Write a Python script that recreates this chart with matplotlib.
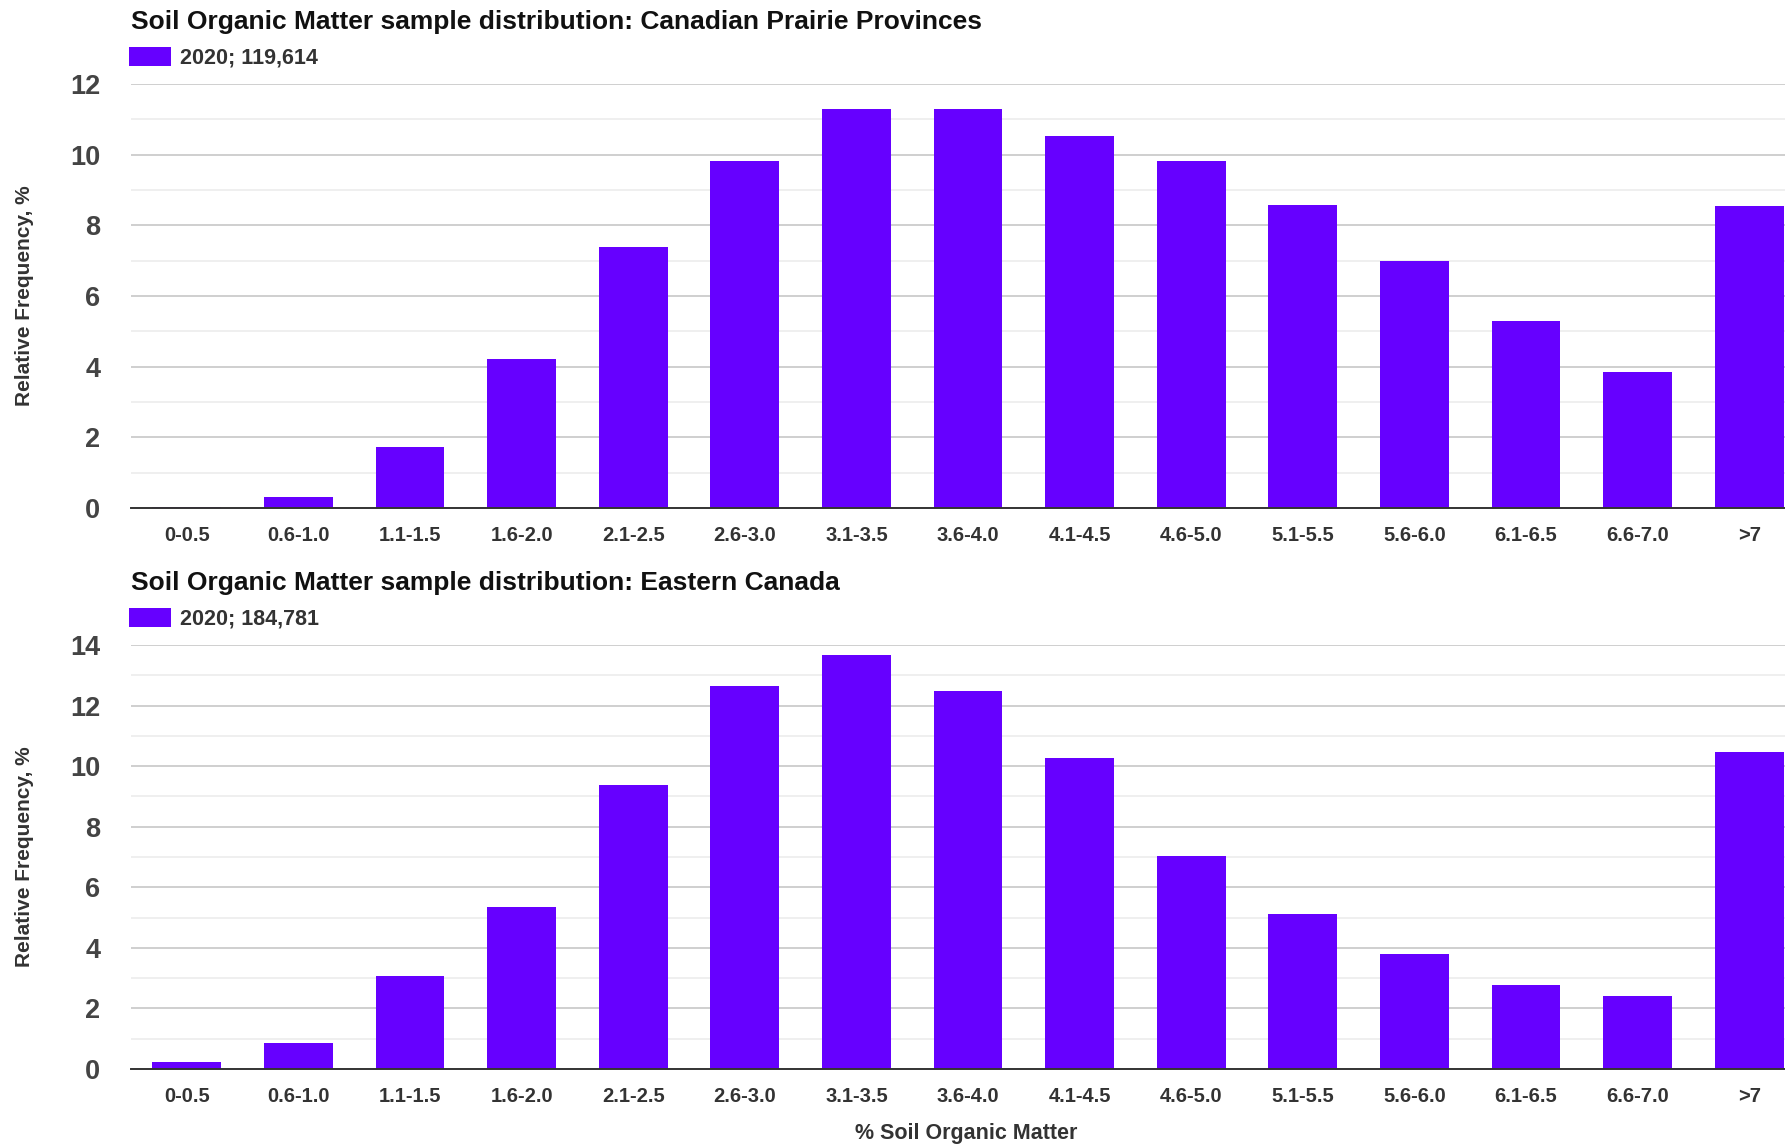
import matplotlib
matplotlib.use("Agg")
import numpy as np
import matplotlib.pyplot as plt
from matplotlib.ticker import MultipleLocator

plt.rcParams['font.family'] = ['Liberation Sans', 'DejaVu Sans']
plt.rcParams['font.weight'] = 'bold'

# bins of % soil organic matter
bins = ['0-0.5', '0.6-1.0', '1.1-1.5', '1.6-2.0', '2.1-2.5', '2.6-3.0', '3.1-3.5',
        '3.6-4.0', '4.1-4.5', '4.6-5.0', '5.1-5.5', '5.6-6.0', '6.1-6.5', '6.6-7.0', '>7']

# relative frequency (%) per bin
prairie = [0.02, 0.31, 1.72, 4.23, 7.40, 9.82, 11.29, 11.29, 10.52, 9.81, 8.58, 6.98, 5.30, 3.86, 8.54]
eastern = [0.24, 0.85, 3.06, 5.35, 9.39, 12.63, 13.68, 12.47, 10.28, 7.02, 5.11, 3.79, 2.77, 2.42, 10.47]

prairie_title = 'Soil Organic Matter sample distribution: Canadian Prairie Provinces'
eastern_title = 'Soil Organic Matter sample distribution: Eastern Canada'
prairie_label = '2020; 119,614'
eastern_label = '2020; 184,781'

BAR = '#6600ff'
W, H = 1785, 1144

fig = plt.figure(figsize=(W / 100, H / 100), dpi=100)


def panel(top_px, bot_px, vals, ymax, title, label):
    left = 131 / W
    width = 1674 / W  # runs past the right edge, last bar gets clipped
    ax = fig.add_axes([left, 1 - bot_px / H, width, (bot_px - top_px) / H])
    x = np.arange(len(bins))
    ax.bar(x, vals, width=0.615, color=BAR, label=label, zorder=3)
    ax.set_xlim(-0.5, len(bins) - 0.5)
    ax.set_ylim(0, ymax)
    ax.yaxis.set_major_locator(MultipleLocator(2))
    ax.yaxis.set_minor_locator(MultipleLocator(1))
    ax.grid(axis='y', which='major', color='#cccccc', lw=1.3, zorder=0)
    ax.grid(axis='y', which='minor', color='#ebebeb', lw=1.1, zorder=0)
    for s in ['top', 'right', 'left']:
        ax.spines[s].set_visible(False)
    ax.spines['bottom'].set_color('#333333')
    ax.spines['bottom'].set_linewidth(1.4)
    ax.spines['bottom'].set_zorder(4)
    ax.set_xticks(x)
    ax.set_xticklabels(bins)
    ax.tick_params(axis='x', length=0, pad=13, labelsize=14.5, labelcolor='#333333')
    ax.tick_params(axis='y', which='both', length=0, pad=22, labelsize=19.5, labelcolor='#444444')
    for t in ax.get_yticklabels():
        t.set_fontweight('bold')
    # axis title, rotated, near the left edge
    fig.text(24 / W, 1 - (top_px + bot_px) / 2 / H, 'Relative Frequency, %', rotation=90,
             fontsize=15, fontweight='bold', color='#333333', ha='center', va='center')
    fig.text(left, 1 - (top_px - 62) / H, title, fontsize=19, color='#111111',
             ha='left', va='center')
    ax.legend(loc='center left', bbox_to_anchor=(left - 0.001, 1 - (top_px - 26) / H),
              bbox_transform=fig.transFigure, frameon=False, borderpad=0,
              borderaxespad=0, handlelength=1.95, handleheight=0.95, handletextpad=0.42,
              prop={'size': 15.5, 'weight': 'bold'}, labelcolor='#333333')
    return ax


panel(84, 508, prairie, 12, prairie_title, prairie_label)
panel(645, 1069, eastern, 14, eastern_title, eastern_label)
fig.text(966 / W, 1 - 1134 / H, '% Soil Organic Matter', fontsize=15.5, color='#333333',
         ha='center', va='center')

fig.savefig('out.png', dpi=100)
